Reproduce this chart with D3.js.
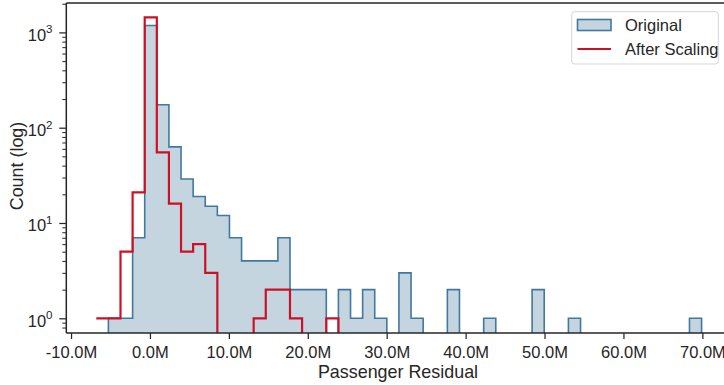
<!DOCTYPE html>
<html>
<head>
<meta charset="utf-8">
<script src="https://cdn.jsdelivr.net/npm/d3@7"></script>
<style>
  html, body { margin: 0; padding: 0; background: #fff; }
  svg { display: block; font-family: "Liberation Sans", Arial, sans-serif; }
</style>
</head>
<body>
<div class="chart"></div>
<script>
// histogram bins (values in millions), shared by both series
var binStart = -6.80;
var binWidth = 1.534;

var originalCounts = [0, 1, 1, 7, 1180, 174, 63, 29, 19, 15,
                      12, 7, 4, 4, 4, 7, 2, 2, 2, 0,
                      2, 1, 2, 1, 0, 3, 1, 0, 0, 2,
                      0, 0, 1, 0, 0, 0, 2, 0, 0, 1,
                      0, 0, 0, 0, 0, 0, 0, 0, 0, 1];

var scaledCounts = [1, 1, 5, 21, 1440, 55, 16, 5, 6, 3,
                    0, 0, 0, 1, 2, 2, 1, 0, 0, 1,
                    0, 0, 0, 0, 0, 0, 0, 0, 0, 0,
                    0, 0, 0, 0, 0, 0, 0, 0, 0, 0,
                    0, 0, 0, 0, 0, 0, 0, 0, 0, 0];

var xTicks = [-10, 0, 10, 20, 30, 40, 50, 60, 70];
var yMajor = [1, 10, 100, 1000];
var seriesNames = ["Original", "After Scaling"];

var width = 724, height = 385;
var pLeft = 66.3, pRight = 730, pTop = 3, pBottom = 333;
var ink = "#262626";
var blueEdge = "#40789f", blueFill = "rgb(197,213,224)", red = "#cc1126";
var fs = "16.5px", labelFs = "17.9px";

var x = d3.scaleLinear().domain([-10.6, 73.5]).range([pLeft, pRight]);
var y = d3.scaleLog().domain([0.701, 2035]).range([pBottom, pTop]);

var svg = d3.select(".chart").append("svg")
            .attr("width", width)
            .attr("height", height);

svg.append("clipPath").attr("id", "plot")
   .append("rect")
   .attr("x", pLeft).attr("y", pTop)
   .attr("width", pRight - pLeft).attr("height", pBottom - pTop);

function yv(c) { return c > 0 ? y(c) : pBottom + 20; }

// step outline through the bins
function stepPoints(counts, startFromBase) {
    var pts = [];
    counts.forEach(function(c, k) {
        var x0 = x(binStart + k * binWidth), x1 = x(binStart + (k + 1) * binWidth);
        if (k === 0 && startFromBase) pts.push([x0, pBottom + 20]);
        pts.push([x0, yv(c)]);
        pts.push([x1, yv(c)]);
    });
    pts.push([x(binStart + counts.length * binWidth), pBottom + 20]);
    return pts;
}

var line = d3.line();
var g = svg.append("g").attr("clip-path", "url(#plot)");

g.append("path")
 .attr("d", line(stepPoints(originalCounts, true)) + "Z")
 .attr("fill", blueFill)
 .attr("stroke", blueEdge)
 .attr("stroke-width", 1.6);

g.append("path")
 .attr("d", line(stepPoints(scaledCounts, false)))
 .attr("fill", "none")
 .attr("stroke", red)
 .attr("stroke-width", 2.2);

// x axis
var xAxis = svg.append("g")
    .attr("transform", "translate(0," + pBottom + ")")
    .call(d3.axisBottom(x).tickValues(xTicks)
            .tickFormat(function(d) { return d.toFixed(1) + "M"; })
            .tickSize(6).tickPadding(7));
xAxis.select(".domain").remove();
xAxis.selectAll(".tick line").attr("stroke", ink).attr("stroke-width", 1.25);
xAxis.selectAll(".tick text").attr("fill", ink).style("font-size", fs);

// y axis (log): minor ticks then major ticks
var yMinor = [];
[-1, 0, 1, 2, 3].forEach(function(k) {
    for (var m = 2; m <= 9; m++) {
        var v = m * Math.pow(10, k);
        if (v >= y.domain()[0] && v <= y.domain()[1]) yMinor.push(v);
    }
});
var yAxisMinor = svg.append("g")
    .attr("transform", "translate(" + pLeft + ",0)")
    .call(d3.axisLeft(y).tickValues(yMinor).tickFormat("").tickSize(4));
yAxisMinor.select(".domain").remove();
yAxisMinor.selectAll(".tick line").attr("stroke", ink).attr("stroke-width", 1);

var yAxis = svg.append("g")
    .attr("transform", "translate(" + pLeft + ",0)")
    .call(d3.axisLeft(y).tickValues(yMajor).tickFormat("").tickSize(7));
yAxis.select(".domain").remove();
yAxis.selectAll(".tick line").attr("stroke", ink).attr("stroke-width", 1.25);

yMajor.forEach(function(v) {
    var t = svg.append("text")
        .attr("x", 52.5)
        .attr("y", y(v) + 8.4)
        .attr("text-anchor", "end")
        .attr("fill", ink)
        .style("font-size", fs);
    t.append("tspan").text("10");
    t.append("tspan")
     .attr("dy", -7.6)
     .style("font-size", "11.5px")
     .text(String(Math.round(Math.log10(v))));
});

// spines
svg.append("line").attr("x1", pLeft).attr("x2", pLeft).attr("y1", pTop).attr("y2", pBottom)
   .attr("stroke", ink).attr("stroke-width", 1.5);
svg.append("line").attr("x1", pLeft).attr("x2", pRight).attr("y1", pBottom).attr("y2", pBottom)
   .attr("stroke", ink).attr("stroke-width", 1.5);
svg.append("line").attr("x1", pLeft).attr("x2", pRight).attr("y1", pTop).attr("y2", pTop)
   .attr("stroke", ink).attr("stroke-width", 1.5);

// axis labels
svg.append("text")
   .attr("x", 398).attr("y", 378)
   .attr("text-anchor", "middle").attr("fill", ink)
   .style("font-size", labelFs)
   .text("Passenger Residual");

svg.append("text")
   .attr("transform", "translate(22.5," + 166 + ") rotate(-90)")
   .attr("text-anchor", "middle").attr("fill", ink)
   .style("font-size", labelFs)
   .text("Count (log)");

// legend
var legend = svg.append("g");
legend.append("rect")
      .attr("x", 571.7).attr("y", 11.7).attr("width", 146.6).attr("height", 52.3)
      .attr("rx", 3).attr("fill", "#fff").attr("fill-opacity", 0.8)
      .attr("stroke", "#d6d6d6").attr("stroke-width", 1);
legend.append("rect")
      .attr("x", 577.5).attr("y", 19.5).attr("width", 33.5).attr("height", 11)
      .attr("fill", blueFill).attr("stroke", blueEdge).attr("stroke-width", 1.6);
legend.append("line")
      .attr("x1", 577.5).attr("x2", 611).attr("y1", 49).attr("y2", 49)
      .attr("stroke", red).attr("stroke-width", 2.2);
seriesNames.forEach(function(name, i) {
    legend.append("text")
          .attr("x", 625).attr("y", 30.8 + i * 24.2)
          .attr("fill", ink).style("font-size", fs)
          .text(name);
});
</script>
</body>
</html>
